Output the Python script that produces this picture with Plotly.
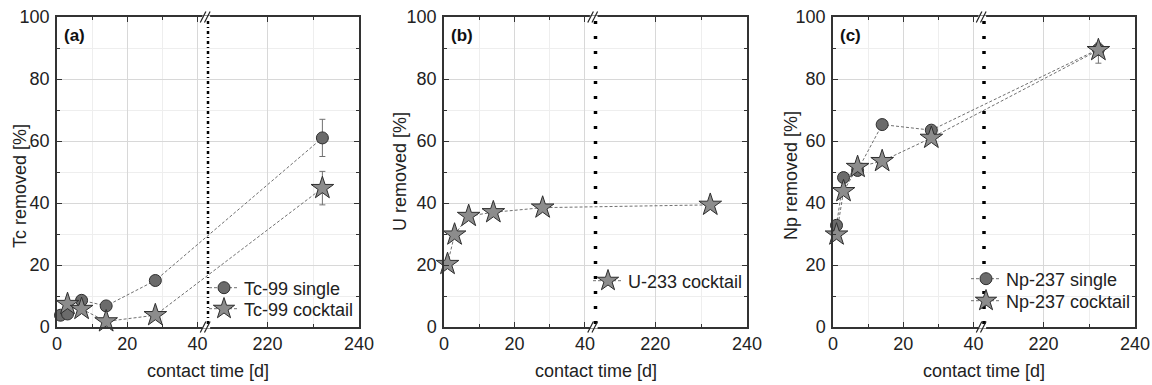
import plotly.graph_objects as go

# ---------------- data ----------------
days = [1, 3, 7, 14, 28, 232]
days_tc_cocktail = [3, 7, 14, 28, 232]
tc_single = [3.8, 4.2, 8.6, 6.8, 15.0, 61.0]
tc_single_err = [0, 0, 0, 0, 0, 6.0]
tc_cocktail = [7.4, 5.8, 1.8, 3.8, 44.8]
tc_cocktail_err = [0, 0, 0, 0, 5.4]
u_cocktail = [20.3, 29.8, 35.8, 37.0, 38.5, 39.4]
np_single = [32.8, 48.2, 50.5, 65.3, 63.5, 89.6]
np_single_err_plus = [0, 0, 0, 0, 0, 2.0]
np_single_err_minus = [0, 0, 0, 0, 0, 4.5]
np_cocktail = [29.8, 43.8, 51.6, 53.5, 61.0, 89.3]

x_tick_days = [0, 20, 40, 220, 240]
x_minor_days = [10, 30, 230]
y_ticks = [0, 20, 40, 60, 80, 100]
y_minor = [10, 30, 50, 70, 90]
panel_labels = ["(a)", "(b)", "(c)"]
y_titles = ["Tc removed [%]", "U removed [%]", "Np removed [%]"]
x_title = "contact time [d]"

# broken x axis: 0..43 and 207..240, each half of the axis length
BREAK_LO, BREAK_HI, X_END = 43, 207, 240


def disp(x):
    if x <= BREAK_LO:
        return x
    return BREAK_LO + (x - BREAK_HI) * BREAK_LO / (X_END - BREAK_HI)


def dlist(xs):
    return [disp(v) for v in xs]


W, H = 1152, 385
FONT = "Liberation Sans, Arial, sans-serif"
FS = 18
# pixel geometry of the three plot areas
panels_px = [(57, 359), (444, 747), (833, 1135)]
y_top_px, y_bot_px = 17, 327

fig = go.Figure()

circle_style = dict(symbol="circle", size=12, color="#6b6b6b",
                    line=dict(color="#2e2e2e", width=1))
star_style = dict(symbol="star", size=17, color="#8c8c8c",
                  line=dict(color="#2e2e2e", width=1))
line_style = dict(color="#707070", width=1, dash="3px,2px")
err_style = dict(color="#707070", thickness=1, width=3)


def add_series(xs, ys, name, marker, axis_idx, legend, err=None, err_minus=None):
    sfx = "" if axis_idx == 1 else str(axis_idx)
    kw = {}
    if err is not None:
        e = dict(type="data", array=err, visible=True, **err_style)
        if err_minus is not None:
            e["symmetric"] = False
            e["arrayminus"] = err_minus
        kw["error_y"] = e
    fig.add_trace(go.Scatter(
        x=dlist(xs), y=ys, name=name, mode="lines+markers",
        marker=marker, line=line_style, cliponaxis=False,
        xaxis="x" + sfx, yaxis="y" + sfx, legend=legend, **kw))


add_series(days, tc_single, "Tc-99 single", circle_style, 1, "legend", tc_single_err)
add_series(days_tc_cocktail, tc_cocktail, "Tc-99 cocktail", star_style, 1, "legend4", tc_cocktail_err)
add_series(days, u_cocktail, "U-233 cocktail", star_style, 2, "legend2")
add_series(days, np_single, "Np-237 single", circle_style, 3, "legend3",
           np_single_err_plus, np_single_err_minus)
add_series(days, np_cocktail, "Np-237 cocktail", star_style, 3, "legend5")

layout = dict(
    width=W, height=H, margin=dict(l=0, r=0, t=0, b=0, autoexpand=False),
    paper_bgcolor="white", plot_bgcolor="white",
    font=dict(family=FONT, size=FS, color="#222222"),
    showlegend=True,
)

ydom = [1 - y_bot_px / H, 1 - y_top_px / H]
for i, (x0, x1) in enumerate(panels_px, start=1):
    sfx = "" if i == 1 else str(i)
    layout["xaxis" + sfx] = dict(
        domain=[x0 / W, x1 / W], range=[0, disp(X_END)], anchor="y" + sfx,
        tickmode="array", tickvals=dlist(x_tick_days), ticktext=[str(v) for v in x_tick_days],
        ticks="inside", ticklen=5, tickcolor="#333333", tickwidth=1,
        showline=True, linecolor="#333333", linewidth=1.5, mirror="allticks",
        showgrid=True, gridcolor="#d8d8d8", gridwidth=1, zeroline=False,
        ticklabelstandoff=0, tickfont=dict(size=FS), automargin=False,
        minor=dict(tickmode="array", tickvals=dlist(x_minor_days), ticks="inside",
                   ticklen=3, tickcolor="#333333", showgrid=True, gridcolor="#eeeeee"),
    )
    layout["yaxis" + sfx] = dict(
        domain=ydom, range=[0, 100], anchor="x" + sfx,
        tickmode="array", tickvals=y_ticks,
        ticks="inside", ticklen=5, tickcolor="#333333", tickwidth=1,
        showline=True, linecolor="#333333", linewidth=1.5, mirror="allticks",
        showgrid=True, gridcolor="#d8d8d8", gridwidth=1, zeroline=False,
        ticklabelstandoff=2, tickfont=dict(size=FS), automargin=False,
        minor=dict(tickmode="array", tickvals=y_minor, ticks="inside",
                   ticklen=3, tickcolor="#333333", showgrid=True, gridcolor="#eeeeee"),
    )

legend_common = dict(bgcolor="rgba(0,0,0,0)", borderwidth=0,
                     font=dict(family=FONT, size=FS, color="#222222"),
                     xanchor="left", yanchor="middle", itemwidth=30)


def leg(text_x, row_y):
    return dict(x=(text_x - 44) / W, y=1 - row_y / H, **legend_common)


layout["legend"] = leg(248, 288)
layout["legend4"] = leg(248, 309)
layout["legend2"] = leg(632, 281)
layout["legend3"] = leg(1010, 279)
layout["legend5"] = leg(1010, 301)

fig.update_layout(**layout)

# annotations: panel labels and axis titles
ytitle_x = [20, 400, 791]
ytitle_y = [186, 172, 176]
xtitle_y = 371
for i, (x0, x1) in enumerate(panels_px):
    fig.add_annotation(text="<b>%s</b>" % panel_labels[i], xref="paper", yref="paper",
                       x=(x0 + 5) / W, y=1 - 35 / H, xanchor="left", yanchor="middle",
                       showarrow=False, font=dict(family=FONT, size=17, color="#111111"))
    fig.add_annotation(text=y_titles[i], xref="paper", yref="paper",
                       x=ytitle_x[i] / W, y=1 - ytitle_y[i] / H, textangle=-90,
                       xanchor="center", yanchor="middle", showarrow=False,
                       font=dict(family=FONT, size=FS, color="#222222"))
    fig.add_annotation(text=x_title, xref="paper", yref="paper",
                       x=(x0 + x1) / 2 / W, y=1 - xtitle_y / H,
                       xanchor="center", yanchor="middle", showarrow=False,
                       font=dict(family=FONT, size=FS, color="#222222"))

# break line and break marks
for i in range(1, 4):
    sfx = "" if i == 1 else str(i)
    dash = "3px,3px,1px,3px" if i == 1 else "3px,12px"
    width = 2.5 if i == 1 else 3.5
    fig.add_shape(type="line", xref="x" + sfx, yref="y" + sfx + " domain",
                  x0=BREAK_LO, x1=BREAK_LO, y0=0.01, y1=0.99,
                  line=dict(color="black", width=width, dash=dash), layer="above")
    for yb in (0, 1):
        # white gap in axis line
        fig.add_shape(type="line", xref="x" + sfx, yref="y" + sfx + " domain",
                      x0=BREAK_LO - 1.6, x1=BREAK_LO + 0.6, y0=yb, y1=yb,
                      line=dict(color="white", width=3), layer="above")
        for off in (-1.4, -0.2):
            fig.add_shape(type="line", xref="x" + sfx, yref="y" + sfx + " domain",
                          x0=BREAK_LO + off - 0.8, x1=BREAK_LO + off + 0.8,
                          y0=yb - 0.018, y1=yb + 0.018,
                          line=dict(color="#222222", width=1.2), layer="above")

fig.write_html("out.html")
